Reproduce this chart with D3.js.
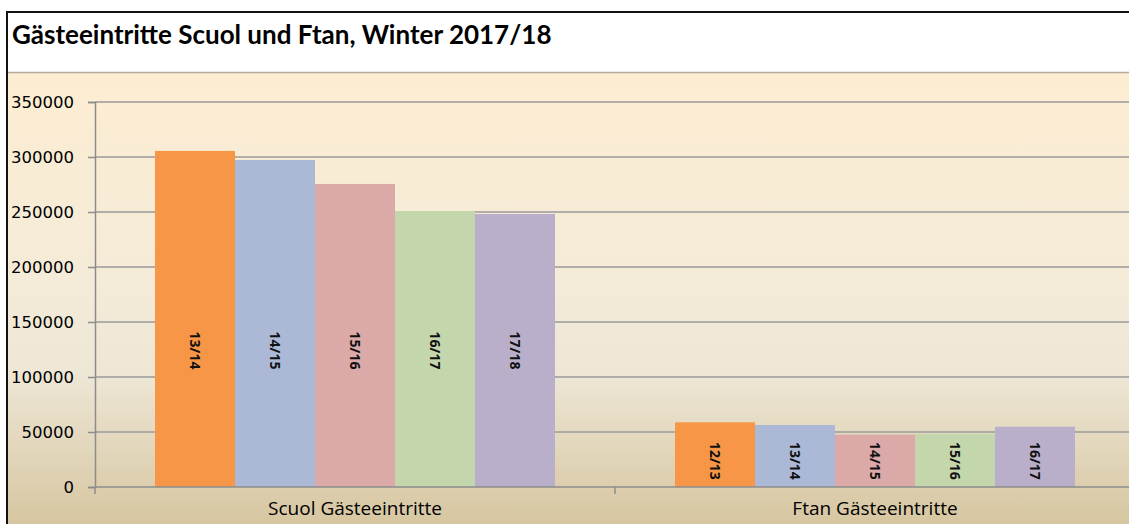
<!DOCTYPE html>
<html>
<head>
<meta charset="utf-8">
<script src="https://cdn.jsdelivr.net/npm/d3@7"></script>
<style>
  body { margin: 0; background: #fff; }
  svg { display: block; }
</style>
</head>
<body>
<svg id="chart" width="1129" height="524"></svg>
<script>
// data
var categories = ["Scuol Gästeeintritte", "Ftan Gästeeintritte"];
var scuolSeasons = ["13/14", "14/15", "15/16", "16/17", "17/18"];
var scuolValues = [305500, 297300, 275500, 250900, 248200];
var ftanSeasons = ["12/13", "13/14", "14/15", "15/16", "16/17"];
var ftanValues = [58800, 56400, 47600, 48200, 54800];
var yTicks = [0, 50000, 100000, 150000, 200000, 250000, 300000, 350000];
var barColors = ["#f79646", "#abb9d7", "#daa9a8", "#c4d6ab", "#b9afcb"];

var groups = [
  {cat: categories[0], seasons: scuolSeasons, values: scuolValues},
  {cat: categories[1], seasons: ftanSeasons, values: ftanValues}
];

var svg = d3.select("#chart");

// background gradient of the plot area
var defs = svg.append("defs");
var grad = defs.append("linearGradient").attr("id", "bg")
  .attr("x1", 0).attr("y1", 0).attr("x2", 0).attr("y2", 1);
grad.append("stop").attr("offset", "0%").attr("stop-color", "#fdedd2");
grad.append("stop").attr("offset", "45%").attr("stop-color", "#f4ebd8");
grad.append("stop").attr("offset", "65%").attr("stop-color", "#eee7d6");
grad.append("stop").attr("offset", "100%").attr("stop-color", "#d5c49e");

svg.append("rect").attr("x", 8).attr("y", 73).attr("width", 1130).attr("height", 460)
  .attr("fill", "url(#bg)");
svg.append("rect").attr("x", 8).attr("y", 13).attr("width", 1130).attr("height", 59)
  .attr("fill", "#fff");
svg.append("line").attr("x1", 8).attr("x2", 1135).attr("y1", 72.5).attr("y2", 72.5)
  .attr("stroke", "#b3ab9c").attr("stroke-width", 1.5);
// frame
svg.append("rect").attr("x", 7).attr("y", 12).attr("width", 1140).attr("height", 530)
  .attr("fill", "none").attr("stroke", "#111").attr("stroke-width", 2);

svg.append("text").attr("x", 12).attr("y", 44)
  .attr("font-family", "Lato").attr("font-weight", "bold").attr("font-size", 26)
  .attr("fill", "#000")
  .text("Gästeeintritte Scuol und Ftan, Winter 2017/18");

var x = d3.scaleBand().domain(categories).range([95, 1135]);
var xInner = d3.scaleBand().domain(d3.range(5)).range([0, x.bandwidth()])
  .paddingInner(0).paddingOuter(0.75);
var y = d3.scaleLinear().domain([0, 350000]).range([487, 102]);

// gridlines
svg.append("g").selectAll("line").data(yTicks.slice(1)).join("line")
  .attr("x1", 95).attr("x2", 1135)
  .attr("y1", function(d) { return y(d); }).attr("y2", function(d) { return y(d); })
  .attr("stroke", "#9a9a9a").attr("stroke-width", 1.5);

// bars
var g = svg.append("g").selectAll("g").data(groups).join("g")
  .attr("transform", function(d) { return "translate(" + x(d.cat) + ",0)"; });

g.selectAll("rect").data(function(d) { return d.values; }).join("rect")
  .attr("x", function(d, i) { return xInner(i); })
  .attr("width", xInner.bandwidth())
  .attr("y", function(d) { return y(d); })
  .attr("height", function(d) { return y(0) - y(d); })
  .attr("fill", function(d, i) { return barColors[i]; });

// labels sit in the middle of the lowest bar of each group
g.each(function(grp) {
  var mid = y(d3.min(grp.values) / 2);
  d3.select(this).selectAll("text").data(grp.seasons).join("text")
    .attr("transform", function(d, i) {
      return "translate(" + (xInner(i) + xInner.bandwidth() / 2) + "," + mid + ") rotate(90)";
    })
    .attr("text-anchor", "middle").attr("dy", "0.35em")
    .attr("font-family", "Open Sans").attr("font-weight", 700).attr("font-size", 14)
    .attr("fill", "#111")
    .text(function(d) { return d; });
});

// y axis
var yAxis = svg.append("g").attr("transform", "translate(95,0)")
  .call(d3.axisLeft(y).tickValues(yTicks).tickFormat(d3.format("d")).tickSize(7).tickPadding(14));
yAxis.select(".domain").attr("stroke", "#8c8c8c").attr("stroke-width", 1.5);
yAxis.selectAll(".tick line").attr("stroke", "#8c8c8c").attr("stroke-width", 1.5);
yAxis.selectAll(".tick text").attr("font-family", "DejaVu Sans").attr("font-size", 16.5).attr("fill", "#000");

// x axis
svg.append("line").attr("x1", 95).attr("x2", 1135).attr("y1", y(0)).attr("y2", y(0))
  .attr("stroke", "#8c8c8c").attr("stroke-width", 1.5);
svg.append("g").selectAll("line").data(categories).join("line")
  .attr("x1", function(d) { return x(d) + x.bandwidth(); })
  .attr("x2", function(d) { return x(d) + x.bandwidth(); })
  .attr("y1", y(0)).attr("y2", y(0) + 7)
  .attr("stroke", "#8c8c8c").attr("stroke-width", 1.5);
svg.append("line").attr("x1", 95).attr("x2", 95).attr("y1", y(0)).attr("y2", y(0) + 7)
  .attr("stroke", "#8c8c8c").attr("stroke-width", 1.5);
svg.append("g").selectAll("text").data(categories).join("text")
  .attr("x", function(d) { return x(d) + x.bandwidth() / 2; })
  .attr("y", 515)
  .attr("text-anchor", "middle")
  .attr("font-family", "Open Sans").attr("font-size", 19).attr("fill", "#000")
  .text(function(d) { return d; });
</script>
</body>
</html>
